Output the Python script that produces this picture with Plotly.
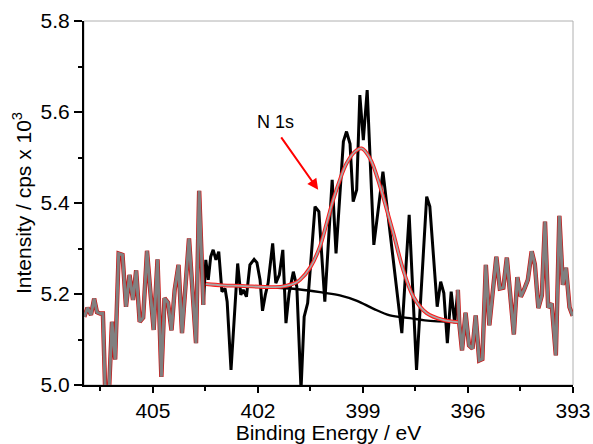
import plotly.graph_objects as go

# ---------------- data ----------------
raw_E = [406.96, 406.87, 406.77, 406.68, 406.60, 406.51, 406.43, 406.35, 406.27, 406.17,
         406.08, 405.98, 405.87, 405.77, 405.67, 405.57, 405.48, 405.38, 405.28, 405.17,
         405.08, 404.98, 404.87, 404.76, 404.67, 404.57, 404.47, 404.38, 404.27, 404.17,
         403.97, 403.77, 403.68, 403.56,
         403.49, 403.42, 403.35, 403.28, 403.20, 403.12, 403.03, 402.94, 402.88, 402.77,
         402.68, 402.58, 402.49, 402.42, 402.33, 402.23, 402.11, 402.03, 401.94, 401.87,
         401.79, 401.71, 401.58, 401.49, 401.39, 401.29, 401.20, 401.11, 400.99, 400.89,
         400.77, 400.68, 400.58, 400.37, 400.26, 400.16, 400.09, 399.88, 399.77, 399.56,
         399.47, 399.37, 399.28, 399.18, 399.09, 398.99, 398.88, 398.69, 398.43, 397.89,
         397.68, 397.47, 397.18, 397.09, 396.88, 396.78, 396.69, 396.59, 396.48, 396.38,
         396.29,
         396.25, 396.17, 396.07, 395.97, 395.87, 395.78, 395.68, 395.59, 395.49, 395.39,
         395.19, 395.09, 394.99, 394.89, 394.79, 394.69, 394.59, 394.49, 394.40, 394.29,
         394.18, 394.09, 393.99, 393.89, 393.80, 393.71, 393.61, 393.49, 393.39, 393.29,
         393.20, 393.10, 393.01]
raw_I = [5.150, 5.170, 5.154, 5.190, 5.160, 5.157, 5.157, 4.950, 4.960, 5.139,
         5.056, 5.289, 5.286, 5.172, 5.242, 5.187, 5.252, 5.139, 5.148, 5.295,
         5.210, 5.121, 5.276, 5.018, 5.191, 5.181, 5.120, 5.209, 5.264, 5.114,
         5.322, 5.092, 5.427, 5.176,
         5.275, 5.231, 5.282, 5.297, 5.275, 5.293, 5.205, 5.212, 5.183, 5.033,
         5.143, 5.267, 5.198, 5.209, 5.194, 5.264, 5.276, 5.269, 5.231, 5.163,
         5.198, 5.224, 5.311, 5.224, 5.242, 5.297, 5.136, 5.202, 5.249, 5.216,
         4.990, 5.150, 5.180, 5.392, 5.381, 5.260, 5.183, 5.451, 5.289, 5.535,
         5.557, 5.530, 5.403, 5.429, 5.637, 5.538, 5.648, 5.308, 5.469, 5.114,
         5.374, 5.033, 5.414, 5.392, 5.172, 5.227, 5.202, 5.092, 5.205, 5.136,
         5.209,
         5.136, 5.076, 5.159, 5.087, 5.080, 5.153, 5.054, 5.057, 5.264, 5.131,
         5.282, 5.212, 5.214, 5.280, 5.194, 5.111, 5.237, 5.194, 5.209, 5.231,
         5.294, 5.265, 5.169, 5.197, 5.359, 5.170, 5.179, 5.065, 5.372, 5.220,
         5.258, 5.171, 5.152]

fit_hi = 403.56   # upper end of fitted region (eV)
fit_lo = 396.29   # lower end of fitted region (eV)

env_E = [403.49, 403.00, 402.51, 401.51, 401.20, 400.94, 400.80, 400.51, 400.23, 400.04,
         399.85, 399.66, 399.47, 399.23, 399.04, 398.80, 398.51, 398.32, 398.13, 397.85,
         397.56, 397.18, 396.71, 396.29]
env_I = [5.222, 5.219, 5.218, 5.215, 5.218, 5.224, 5.231, 5.258, 5.304, 5.355,
         5.407, 5.451, 5.487, 5.513, 5.520, 5.498, 5.436, 5.385, 5.333, 5.253,
         5.194, 5.158, 5.143, 5.138]

bg_E = [403.49, 401.51, 400.80, 400.14, 399.66, 399.17, 398.71, 398.23, 397.66, 397.23, 396.29]
bg_I = [5.221, 5.214, 5.210, 5.203, 5.197, 5.185, 5.168, 5.153, 5.147, 5.142, 5.138]

x_ticks = [405, 402, 399, 396, 393]
y_ticks = [5.0, 5.2, 5.4, 5.6, 5.8]

# ---------------- figure ----------------
FONT = "Liberation Sans, Arial, sans-serif"

def seg(cond):
    xs = [e for e, v in zip(raw_E, raw_I) if cond(e)]
    ys = [v for e, v in zip(raw_E, raw_I) if cond(e)]
    return xs, ys

left_x, left_y = seg(lambda e: e >= fit_hi)
mid_x, mid_y = seg(lambda e: fit_lo <= e <= fit_hi)
right_x, right_y = seg(lambda e: e <= fit_lo)

fig = go.Figure()

# raw data inside fitted region (black)
fig.add_trace(go.Scatter(x=mid_x, y=mid_y, mode="lines",
                         line=dict(color="black", width=3)))
# background
fig.add_trace(go.Scatter(x=bg_E, y=bg_I, mode="lines", line_shape="spline",
                         line=dict(color="black", width=2.4)))
# raw data outside fitted region: grey with red edge
for xs, ys in [(left_x, left_y), (right_x, right_y)]:
    fig.add_trace(go.Scatter(x=xs, y=ys, mode="lines",
                             line=dict(color="#c81414", width=4.4)))
    fig.add_trace(go.Scatter(x=xs, y=ys, mode="lines",
                             line=dict(color="#808080", width=3.0)))
# envelope: red with grey centre
fig.add_trace(go.Scatter(x=env_E, y=env_I, mode="lines", line_shape="spline",
                         line=dict(color="#ff1a1a", width=3.8)))
fig.add_trace(go.Scatter(x=env_E, y=env_I, mode="lines", line_shape="spline",
                         line=dict(color="#a8a8a8", width=1.8)))

# annotation
fig.add_annotation(x=400.28, y=5.429, ax=-38, ay=-54, xref="x", yref="y",
                   text="", showarrow=True, arrowhead=2, arrowsize=1.1,
                   arrowwidth=2, arrowcolor="#ff0000")
fig.add_annotation(x=401.49, y=5.578, xref="x", yref="y", text="N 1s",
                   showarrow=False, font=dict(family=FONT, size=18, color="black"))

# grey frame (top/right)
fig.add_shape(type="rect", xref="paper", yref="paper", x0=0, x1=1, y0=0, y1=1,
              line=dict(color="#b0b0b0", width=1), layer="below")

fig.update_layout(
    width=593, height=444,
    margin=dict(l=84, r=20, t=21, b=59, autoexpand=False),
    paper_bgcolor="white", plot_bgcolor="white",
    showlegend=False,
    font=dict(family=FONT, color="black"),
    xaxis=dict(range=[406.97, 393], tickvals=x_ticks, ticktext=[str(t) for t in x_ticks],
               showgrid=False, zeroline=False, automargin=False,
               showline=True, linecolor="black", linewidth=2,
               ticks="outside", ticklen=6, tickwidth=1.5, tickcolor="black",
               minor=dict(ticks="outside", ticklen=4, tickwidth=1.5, tickcolor="black",
                          dtick=1.5, tick0=393, showgrid=False),
               tickfont=dict(size=21),
               title=dict(text="Binding Energy / eV", font=dict(size=21), standoff=4)),
    yaxis=dict(range=[5.0, 5.8], tickvals=y_ticks, ticktext=[f"{t:.1f}" for t in y_ticks],
               showgrid=False, zeroline=False, automargin=False,
               showline=True, linecolor="black", linewidth=2,
               ticks="outside", ticklen=8, tickwidth=1.5, tickcolor="black",
               minor=dict(ticks="outside", ticklen=4, tickwidth=1.5, tickcolor="black",
                          dtick=0.1, tick0=5.0, showgrid=False),
               tickfont=dict(size=21),
               title=dict(text="Intensity / cps x 10<sup>3</sup>", font=dict(size=21), standoff=3)),
)

fig.write_html("out.html", config={"displayModeBar": False},
               post_script="document.body.style.margin='0';document.body.style.overflow='hidden';")
